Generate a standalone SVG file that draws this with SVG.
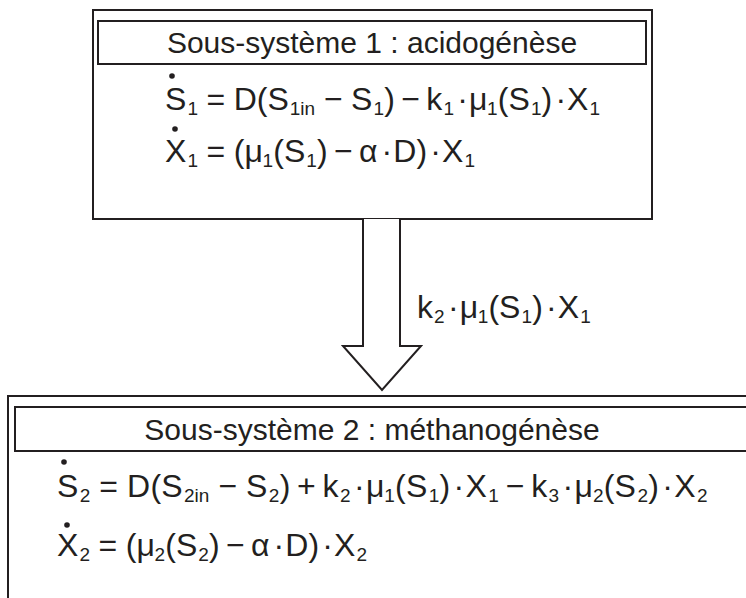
<svg xmlns="http://www.w3.org/2000/svg" width="746" height="598" viewBox="0 0 746 598">
<style>
.box{fill:#fff;stroke:#231f20;stroke-width:2}
.t{font-family:"Liberation Sans",Arial,sans-serif;fill:#231f20}
.title{font-size:30px}
.eq{font-size:32px}
.s{font-size:19px}
.dot{fill:#231f20}
</style>
<rect width="746" height="598" fill="#fff"/>
<g id="subsystem1">
<rect class="box" x="93" y="10" width="559" height="209"/>
<rect class="box" x="98" y="21" width="548" height="43"/>
<text class="t title" x="372" y="53" text-anchor="middle">Sous-système 1 : acidogénèse</text>
<circle class="dot" cx="172" cy="76" r="2.8"/>
<text class="t eq" y="110"><tspan x="165">S</tspan><tspan class="s" x="187.4" y="115">1</tspan><tspan x="206.6" y="110">=</tspan><tspan x="233.8">D</tspan><tspan x="256.7">(</tspan><tspan x="267.4">S</tspan><tspan class="s" x="289.8" y="115">1in</tspan><tspan x="323.9" y="110">−</tspan><tspan x="351.1">S</tspan><tspan class="s" x="373.5" y="115">1</tspan><tspan x="384.2" y="110">)</tspan><tspan x="401.3">−</tspan><tspan x="426.3">k</tspan><tspan class="s" x="443.4" y="115">1</tspan><tspan x="457.3" y="110">·</tspan><tspan x="469">μ</tspan><tspan class="s" x="487.1" y="115">1</tspan><tspan x="497.8" y="110">(</tspan><tspan x="508.5">S</tspan><tspan class="s" x="530.9" y="115">1</tspan><tspan x="541.5" y="110">)</tspan><tspan x="555.4">·</tspan><tspan x="567.1">X</tspan><tspan class="s" x="589.5" y="115">1</tspan></text>
<circle class="dot" cx="175" cy="129" r="2.8"/>
<text class="t eq" y="162"><tspan x="165">X</tspan><tspan class="s" x="187.4" y="167">1</tspan><tspan x="206.6" y="162">=</tspan><tspan x="233.8">(</tspan><tspan x="244.5">μ</tspan><tspan class="s" x="262.6" y="167">1</tspan><tspan x="273.3" y="162">(</tspan><tspan x="283.9">S</tspan><tspan class="s" x="306.3" y="167">1</tspan><tspan x="317" y="162">)</tspan><tspan x="334.1">−</tspan><tspan x="359.1">α</tspan><tspan x="381.5">·</tspan><tspan x="393.3">D</tspan><tspan x="416.4">)</tspan><tspan x="430.3">·</tspan><tspan x="442">X</tspan><tspan class="s" x="464.4" y="167">1</tspan></text>
</g>
<g id="connectors">
<path class="box" d="M363,219 V346 H343 L382,390 L421,346 H400 V219"/>
<text class="t eq" y="318"><tspan x="417">k</tspan><tspan class="s" x="434.1" y="323">2</tspan><tspan x="447.9" y="318">·</tspan><tspan x="459.7">μ</tspan><tspan class="s" x="477.8" y="323">1</tspan><tspan x="488.5" y="318">(</tspan><tspan x="499.1">S</tspan><tspan class="s" x="521.5" y="323">1</tspan><tspan x="532.2" y="318">)</tspan><tspan x="546.1">·</tspan><tspan x="557.8">X</tspan><tspan class="s" x="580.2" y="323">1</tspan></text>
</g>
<g id="subsystem2">
<rect class="box" x="8" y="396" width="760" height="220"/>
<rect class="box" x="15" y="407" width="750" height="44"/>
<text class="t title" x="372" y="440" text-anchor="middle">Sous-système 2 : méthanogénèse</text>
<circle class="dot" cx="64" cy="462" r="2.8"/>
<text class="t eq" y="497"><tspan x="57">S</tspan><tspan class="s" x="79.8" y="502">2</tspan><tspan x="99.3" y="497">=</tspan><tspan x="126.9">D</tspan><tspan x="150.4">(</tspan><tspan x="161.2">S</tspan><tspan class="s" x="184" y="502">2in</tspan><tspan x="218.4" y="497">−</tspan><tspan x="246">S</tspan><tspan class="s" x="268.8" y="502">2</tspan><tspan x="279.7" y="497">)</tspan><tspan x="297.1">+</tspan><tspan x="322.5">k</tspan><tspan class="s" x="339.9" y="502">2</tspan><tspan x="354" y="497">·</tspan><tspan x="365.9">μ</tspan><tspan class="s" x="384.2" y="502">1</tspan><tspan x="395.1" y="497">(</tspan><tspan x="406">S</tspan><tspan class="s" x="428.8" y="502">1</tspan><tspan x="439.5" y="497">)</tspan><tspan x="453.6">·</tspan><tspan x="465.5">X</tspan><tspan class="s" x="488.3" y="502">1</tspan><tspan x="505.7" y="497">−</tspan><tspan x="531.2">k</tspan><tspan class="s" x="548.4" y="502">3</tspan><tspan x="562.6" y="497">·</tspan><tspan x="574.5">μ</tspan><tspan class="s" x="593" y="502">2</tspan><tspan x="603.7" y="497">(</tspan><tspan x="614.6">S</tspan><tspan class="s" x="637.4" y="502">2</tspan><tspan x="648.2" y="497">)</tspan><tspan x="662.2">·</tspan><tspan x="674.2">X</tspan><tspan class="s" x="697" y="502">2</tspan></text>
<circle class="dot" cx="67" cy="525" r="2.8"/>
<text class="t eq" y="556"><tspan x="57">X</tspan><tspan class="s" x="79.4" y="561">2</tspan><tspan x="98.6" y="556">=</tspan><tspan x="125.8">(</tspan><tspan x="136.5">μ</tspan><tspan class="s" x="154.6" y="561">2</tspan><tspan x="165.3" y="556">(</tspan><tspan x="175.9">S</tspan><tspan class="s" x="198.3" y="561">2</tspan><tspan x="209" y="556">)</tspan><tspan x="226.1">−</tspan><tspan x="251.1">α</tspan><tspan x="273.5">·</tspan><tspan x="285.3">D</tspan><tspan x="308.4">)</tspan><tspan x="322.3">·</tspan><tspan x="334">X</tspan><tspan class="s" x="356.4" y="561">2</tspan></text>
</g>
</svg>
